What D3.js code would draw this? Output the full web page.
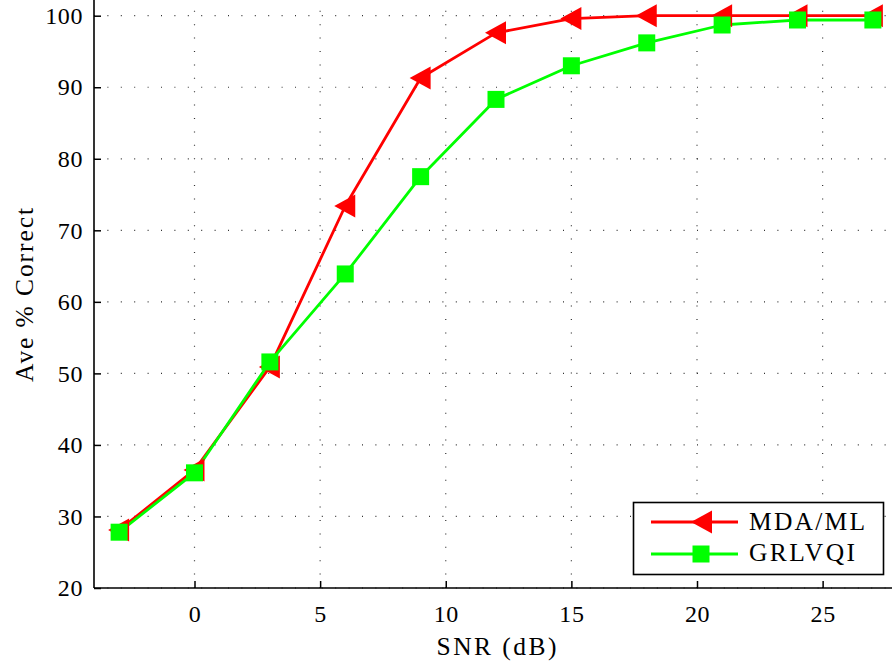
<!DOCTYPE html>
<html><head><meta charset="utf-8">
<script src="https://cdn.jsdelivr.net/npm/d3@7"></script>
</head>
<body style="margin:0"><svg id="c" width="892" height="664"></svg>
<script>
const snr = [-3, 0, 3, 6, 9, 12, 15, 18, 21, 24, 27];
const mdaml = [28.1, 36.5, 50.9, 73.4, 91.3, 97.6, 99.6, 100, 100, 100, 100];
const grlvqi = [27.8, 36.1, 51.6, 63.9, 77.5, 88.3, 93.0, 96.2, 98.7, 99.4, 99.4];
const xTicks = [0, 5, 10, 15, 20, 25];
const yTicks = [20, 30, 40, 50, 60, 70, 80, 90, 100];
const seriesNames = ["MDA/ML", "GRLVQI"];
const seriesColors = ["#ff0000", "#00ff00"];
const FONT = "Liberation Serif";

const svg = d3.select("#c").style("display", "block").style("background", "#fff")
  .attr("font-family", FONT);
const x = d3.scaleLinear().domain([-4, 28]).range([94, 898]);
const y = d3.scaleLinear().domain([20, 100]).range([588, 15.7]);
const topY = 0;

function txt(sel, size) {
  return sel.attr("font-family", FONT).style("font-family", `"${FONT}"`)
    .style("font-size", size + "px").attr("fill", "#000");
}

const g = svg.append("g");
g.selectAll(".vg").data(xTicks).join("line")
  .attr("x1", d => x(d)).attr("x2", d => x(d))
  .attr("y1", y(20)).attr("y2", topY)
  .attr("stroke", "#333").attr("stroke-width", 1.2)
  .attr("stroke-dasharray", "1,12.4");
g.selectAll(".hg").data(yTicks).join("line")
  .attr("x1", x(-4)).attr("x2", 892)
  .attr("y1", d => y(d)).attr("y2", d => y(d))
  .attr("stroke", "#333").attr("stroke-width", 1.2)
  .attr("stroke-dasharray", "1,12.4");

const xa = svg.append("g").attr("transform", `translate(0,${y(20)})`)
  .call(d3.axisBottom(x).tickValues(xTicks).tickSize(-7).tickSizeOuter(0).tickPadding(16));
const ya = svg.append("g").attr("transform", `translate(${x(-4)},0)`)
  .call(d3.axisLeft(y).tickValues(yTicks).tickSize(-7).tickSizeOuter(0).tickPadding(11));
[xa, ya].forEach(a => {
  a.attr("font-family", FONT).attr("font-size", 24);
  a.select(".domain").remove();
  a.selectAll("line").attr("stroke", "#000").attr("stroke-width", 1.5);
  txt(a.selectAll("text"), 24).style("letter-spacing", "0.6px");
});
xa.selectAll("text").attr("dy", null).attr("y", 34);
ya.selectAll("text").attr("dy", "0.32em");
svg.append("line").attr("x1", x(-4)).attr("x2", 892).attr("y1", y(20)).attr("y2", y(20))
  .attr("stroke", "#000").attr("stroke-width", 1.6);
svg.append("line").attr("x1", x(-4)).attr("x2", x(-4)).attr("y1", topY).attr("y2", y(20))
  .attr("stroke", "#000").attr("stroke-width", 1.6);

txt(svg.append("text"), 25.5).attr("x", 436.5).attr("y", 655)
  .attr("textLength", 120).attr("lengthAdjust", "spacing").text("SNR (dB)");
txt(svg.append("text"), 25.5).attr("transform", `translate(33,382) rotate(-90)`)
  .attr("textLength", 174).attr("lengthAdjust", "spacing").text("Ave % Correct");

const line = d3.line().x(d => x(d[0])).y(d => y(d[1]));
const triPath = "M-11,0 L10,-11.5 L10,11.5 Z";
const sqSize = 17;
const data = [mdaml, grlvqi].map(v => snr.map((s, i) => [s, v[i]]));
data.forEach((d, k) => {
  svg.append("path").datum(d).attr("d", line).attr("fill", "none")
    .attr("stroke", seriesColors[k]).attr("stroke-width", 2.8).attr("stroke-linejoin", "round");
});
svg.selectAll(".tri").data(data[0]).join("path")
  .attr("transform", d => `translate(${x(d[0])},${y(d[1])})`)
  .attr("d", triPath).attr("fill", seriesColors[0]);
svg.selectAll(".sq").data(data[1]).join("rect")
  .attr("x", d => x(d[0]) - sqSize / 2).attr("y", d => y(d[1]) - sqSize / 2)
  .attr("width", sqSize).attr("height", sqSize).attr("fill", seriesColors[1]);

const lg = svg.append("g");
lg.append("rect").attr("x", 633.5).attr("y", 502.5).attr("width", 250).attr("height", 72)
  .attr("fill", "#fff").attr("stroke", "#000").attr("stroke-width", 1.6);
const rows = [522, 554];
const baselines = [530, 561];
const textLens = [116, 106];
seriesNames.forEach((n, k) => {
  lg.append("line").attr("x1", 651).attr("x2", 738).attr("y1", rows[k]).attr("y2", rows[k])
    .attr("stroke", seriesColors[k]).attr("stroke-width", 2.8);
  if (k === 0) {
    lg.append("path").attr("transform", `translate(702,${rows[k]})`).attr("d", triPath).attr("fill", seriesColors[k]);
  } else {
    lg.append("rect").attr("x", 701 - sqSize / 2).attr("y", rows[k] - sqSize / 2)
      .attr("width", sqSize).attr("height", sqSize).attr("fill", seriesColors[k]);
  }
  txt(lg.append("text"), 25.5).attr("x", 749).attr("y", baselines[k])
    .attr("textLength", textLens[k]).attr("lengthAdjust", "spacing").text(n);
});
</script></body></html>
